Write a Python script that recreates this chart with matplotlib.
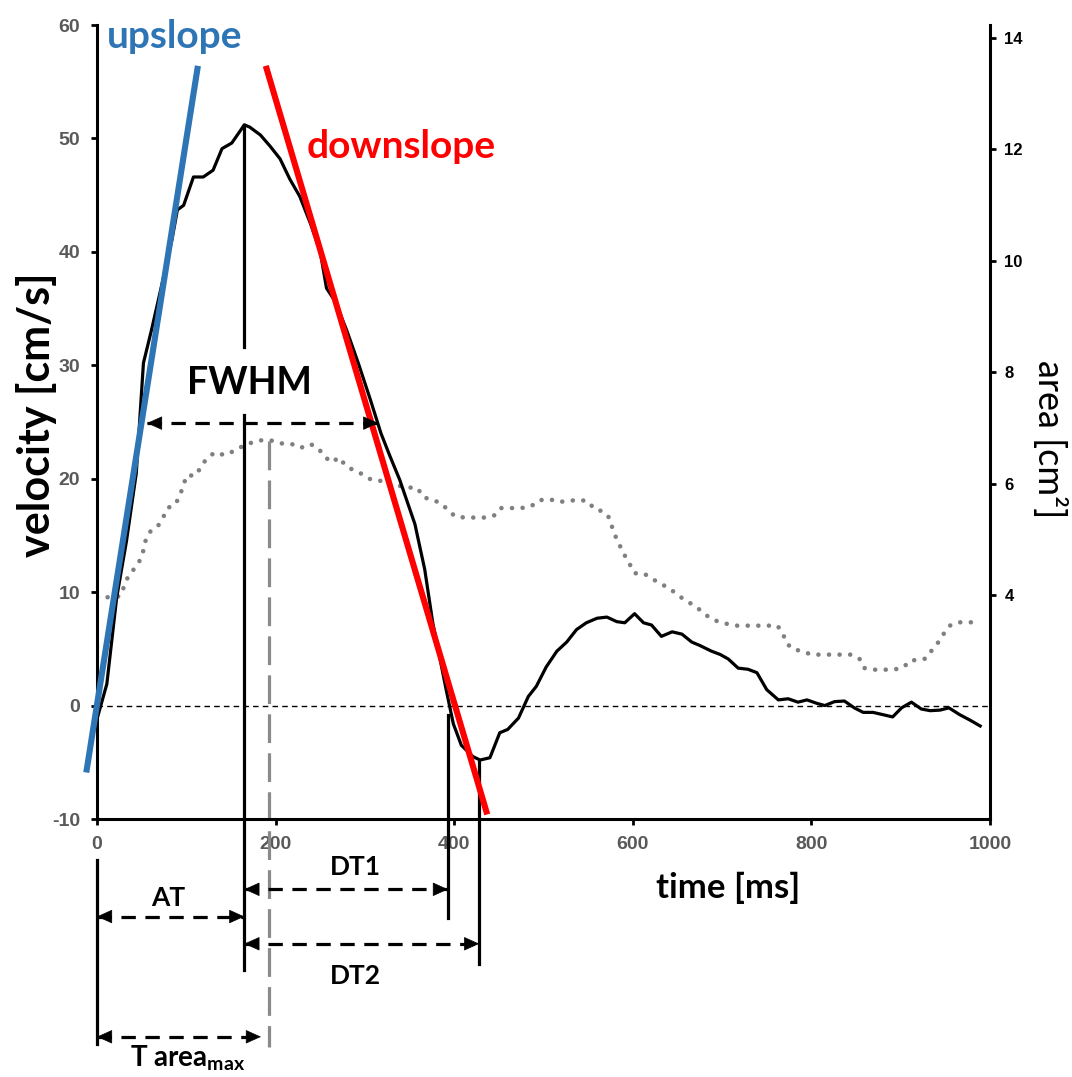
import matplotlib

matplotlib.use("Agg")
import matplotlib.pyplot as plt

# velocity trace (cm/s) vs time (ms)
time_ms = [0, 11, 22, 33, 44, 52, 61, 72, 84, 90, 97, 108, 119, 130, 140, 151, 165, 171, 183, 194,
           205, 216, 227, 239, 250, 257, 267, 280, 293, 306, 318, 328, 339, 356, 367, 376, 391, 399,
           408, 421, 429, 440, 451, 460, 472, 483, 492, 503, 515, 526, 537, 548, 560, 571, 582, 591,
           602, 612, 621, 632, 644, 655, 666, 675, 688, 698, 707, 718, 729, 739, 750, 763, 774, 785,
           795, 806, 815, 826, 837, 848, 858, 869, 880, 891, 901, 912, 923, 933, 944, 954, 966, 978, 989]
velocity = [-1.2, 1.9, 9.5, 14.5, 20.5, 30.2, 33.1, 36.9, 41.1, 43.7, 44.1, 46.6, 46.6, 47.2, 49.1,
            49.6, 51.2, 51.0, 50.3, 49.3, 48.2, 46.4, 44.9, 42.5, 40.0, 36.8, 35.6, 33.0, 30.1, 27.0,
            24.0, 22.0, 19.9, 16.0, 12.0, 7.3, 1.4, -1.6, -3.5, -4.5, -4.8, -4.6, -2.4, -2.1, -1.1,
            0.8, 1.7, 3.4, 4.8, 5.6, 6.7, 7.3, 7.7, 7.8, 7.4, 7.3, 8.1, 7.3, 7.1, 6.1, 6.5, 6.3, 5.6,
            5.3, 4.8, 4.5, 4.1, 3.3, 3.2, 2.9, 1.4, 0.5, 0.6, 0.3, 0.5, 0.2, 0.0, 0.35, 0.4, -0.2,
            -0.6, -0.6, -0.8, -1.0, -0.2, 0.3, -0.3, -0.45, -0.4, -0.2, -0.8, -1.3, -1.8]

# cross-sectional area (cm2) vs time (ms)
area_time_ms = [0, 4, 16, 26, 34, 42, 48, 52, 54, 59, 68, 74, 79, 88, 93, 97, 100, 111, 117, 123,
                132, 143, 154, 164, 174, 185, 196, 207, 218, 228, 239, 248, 255, 263, 271, 278, 287,
                297, 306, 316, 327, 338, 349, 359, 365, 374, 384, 393, 401, 412, 423, 435, 445, 452,
                463, 475, 486, 495, 507, 517, 529, 540, 550, 557, 567, 574, 577, 581, 586, 591, 597,
                602, 612, 620, 630, 640, 649, 658, 668, 677, 686, 696, 706, 717, 728, 740, 751, 762,
                768, 772, 779, 790, 800, 811, 823, 834, 845, 854, 859, 870, 881, 892, 903, 911, 920,
                928, 935, 942, 948, 955, 965, 976, 987]
area = [3.96, 3.96, 3.96, 3.98, 4.30, 4.48, 4.62, 4.80, 4.96, 5.13, 5.23, 5.39, 5.56, 5.63, 5.80,
        5.97, 6.14, 6.15, 6.32, 6.45, 6.56, 6.51, 6.59, 6.68, 6.74, 6.78, 6.77, 6.72, 6.71, 6.64,
        6.71, 6.63, 6.48, 6.38, 6.47, 6.33, 6.24, 6.17, 6.08, 6.06, 5.96, 5.96, 5.93, 5.92, 5.76,
        5.71, 5.66, 5.53, 5.41, 5.39, 5.39, 5.39, 5.43, 5.56, 5.56, 5.56, 5.59, 5.70, 5.72, 5.67,
        5.69, 5.71, 5.68, 5.54, 5.50, 5.38, 5.21, 5.04, 4.87, 4.71, 4.54, 4.39, 4.39, 4.31, 4.21,
        4.13, 4.02, 3.91, 3.82, 3.71, 3.59, 3.52, 3.48, 3.45, 3.45, 3.45, 3.45, 3.45, 3.31, 3.14,
        3.03, 2.99, 2.93, 2.93, 2.93, 2.93, 2.93, 2.85, 2.69, 2.66, 2.66, 2.66, 2.70, 2.83, 2.83,
        2.86, 3.01, 3.15, 3.30, 3.45, 3.51, 3.51, 3.51]

# fitted slopes
upslope_t = [-12, 113]
upslope_v = [-5.9, 56.4]
downslope_t = [189, 437]
downslope_v = [56.4, -9.6]

# timing markers (ms)
t_peak = 165
t_area_max = 193
t_dt1 = 393
t_dt2 = 428
fwhm_t = [56, 315]
fwhm_level = 24.9
peak_velocity = 51.2

plt.rcParams["font.family"] = ["Lato", "DejaVu Sans"]
plt.rcParams["mathtext.fontset"] = "custom"
plt.rcParams["mathtext.rm"] = "Lato"
plt.rcParams["mathtext.bf"] = "Lato:bold"
plt.rcParams["mathtext.it"] = "Lato:italic"
plt.rcParams["axes.unicode_minus"] = False

fig = plt.figure(figsize=(10.72, 10.77), dpi=100)
ax = fig.add_axes([97 / 1072, 1 - 819 / 1077, 893 / 1072, 794 / 1077])
ax2 = ax.twinx()
ax.set_zorder(ax2.get_zorder() + 1)
ax.patch.set_visible(False)

LW = 2.3
DASH = (0, (4.5, 3))

# area curve (dotted, right axis)
ax2.plot(area_time_ms, area, color="#808080", lw=3.3, linestyle=(0, (0.01, 2.3)),
         dash_capstyle="round")
ax2.set_ylim(-0.02, 14.23)
ax2.set_yticks([4, 6, 8, 10, 12, 14])

# zero line
ax.axhline(0, color="black", lw=1.0, linestyle=(0, (4, 3)), zorder=1)

# velocity curve
ax.plot(time_ms, velocity, color="black", lw=2.3, zorder=3)

# slopes
ax.plot(upslope_t, upslope_v, color="#2E75B6", lw=4.4, solid_capstyle="butt", clip_on=False, zorder=4)
ax.plot(downslope_t, downslope_v, color="#FF0000", lw=4.4, solid_capstyle="butt", clip_on=False, zorder=4)

# vertical marker lines
ax.plot([t_peak, t_peak], [peak_velocity, 31.6], color="black", lw=LW, clip_on=False, zorder=3)
ax.plot([t_peak, t_peak], [25.6, -23.3], color="black", lw=LW, clip_on=False, zorder=3)
ax.plot([t_area_max, t_area_max], [23.3, -30.1], color="#8a8a8a", lw=LW,
        linestyle=(0, (9, 3.2)), clip_on=False, zorder=2)
ax.plot([t_dt1, t_dt1], [-0.8, -18.7], color="black", lw=LW, clip_on=False, zorder=3)
ax.plot([t_dt2, t_dt2], [-5.0, -22.8], color="black", lw=LW, clip_on=False, zorder=3)
ax.plot([0, 0], [-13.6, -29.8], color="black", lw=LW, clip_on=False, zorder=3)


def dim_arrow(x0, x1, y):
    ax.plot([x0, x1], [y, y], color="black", lw=LW, linestyle=DASH, clip_on=False, zorder=5)
    for tip, sign in ((x0, 1), (x1, -1)):
        ax.annotate("", xy=(tip, y), xytext=(sign * 9, 0), textcoords="offset points",
                    annotation_clip=False, zorder=6,
                    arrowprops=dict(arrowstyle="-|>,head_length=1.0,head_width=0.45",
                                    mutation_scale=10, color="black", lw=0.5,
                                    shrinkA=0, shrinkB=0))


dim_arrow(fwhm_t[0], fwhm_t[1], fwhm_level)
dim_arrow(t_peak, t_dt1, -16.2)
dim_arrow(0, t_peak, -18.6)
dim_arrow(t_peak, t_dt2, -21.0)
dim_arrow(0, 183.6, -29.2)

# annotations
txt = dict(fontweight="bold", ha="center", va="center", clip_on=False)
ax.text(87, 59.0, "upslope", color="#2E75B6", fontsize=28, **txt)
ax.text(341, 49.3, "downslope", color="#FF0000", fontsize=28, **txt)
ax.text(171, 28.4, "FWHM", color="black", fontsize=27, **txt)
ax.text(289, -14.2, "DT1", color="black", fontsize=19, **txt)
ax.text(79.5, -17.0, "AT", color="black", fontsize=19, **txt)
ax.text(289, -23.8, "DT2", color="black", fontsize=19, **txt)
ax.text(101, -31.1, r"T area$_{\mathbf{max}}$", color="black", fontsize=20, **txt)

# axes
ax.set_xlim(0, 1000)
ax.set_ylim(-10, 60)
ax.set_xticks(range(0, 1001, 200))
ax.set_yticks(range(-10, 61, 10))
for a in (ax, ax2):
    a.spines["top"].set_visible(False)
    for s in ("left", "right", "bottom"):
        a.spines[s].set_linewidth(2.2)
ax.spines["right"].set_visible(False)
ax2.spines["left"].set_visible(False)
ax2.spines["bottom"].set_visible(False)

ax.tick_params(axis="both", direction="out", length=4.3, width=2.0, pad=8,
               labelsize=14, labelcolor="#595959")
ax2.tick_params(axis="y", direction="out", length=4.3, width=2.0, pad=6,
                labelsize=12, labelcolor="black")
for lab in ax.get_xticklabels() + ax.get_yticklabels():
    lab.set_fontfamily("Liberation Sans")
    lab.set_fontweight("bold")
for lab in ax2.get_yticklabels():
    lab.set_fontfamily("Liberation Sans")
    lab.set_fontweight("bold")

ax.text(-0.068, 0.509, "velocity [cm/s]", rotation=90, fontsize=31, fontweight="bold",
        ha="center", va="center", transform=ax.transAxes)
ax.text(0.707, -0.087, "time [ms]", fontsize=25, fontweight="bold",
        ha="center", va="center", transform=ax.transAxes)
ax.text(1.067, 0.479, "area [cm²]", rotation=270, fontsize=26,
        ha="center", va="center", transform=ax.transAxes)

fig.savefig("out.png", dpi=100)
plt.close(fig)
